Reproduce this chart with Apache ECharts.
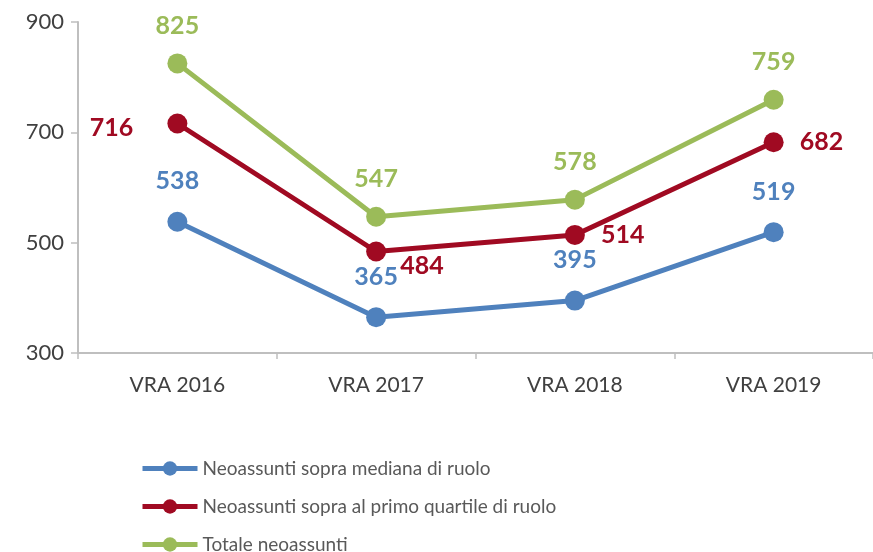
<!DOCTYPE html>
<html>
<head>
<meta charset="utf-8">
<script src="https://cdn.jsdelivr.net/npm/echarts@6/dist/echarts.min.js"></script>
<style>
  html, body { margin: 0; padding: 0; background: #fff; }
  #chart { width: 873px; height: 552px; }
</style>
</head>
<body>
<div id="chart"></div>
<script>
// dati
var categories = ['VRA 2016', 'VRA 2017', 'VRA 2018', 'VRA 2019'];
var sopraMediana = [538, 365, 395, 519];
var sopraQuartile = [716, 484, 514, 682];
var totale = [825, 547, 578, 759];
var nomi = ['Neoassunti sopra mediana di ruolo', 'Neoassunti sopra al primo quartile di ruolo', 'Totale neoassunti'];

var font = 'Lato, "Open Sans", sans-serif';
var blu = '#4F81BD', rosso = '#A00A22', verde = '#9BBB59';

var chart = echarts.init(document.getElementById('chart'));

function serie(nome, dati, colore, label) {
  return {
    name: nome,
    type: 'line',
    data: dati,
    symbol: 'circle',
    symbolSize: 20,
    itemStyle: { color: colore },
    lineStyle: { color: colore, width: 5 },
    label: Object.assign({
      show: true,
      color: colore,
      fontFamily: font,
      fontWeight: 'bold',
      fontSize: 25
    }, label),
    animation: false
  };
}

// etichette rosse: la prima a sinistra, le altre a destra
var rossoDati = sopraQuartile.map(function (v, i) {
  if (i === 0) return { value: v, label: { position: 'left', distance: 34, offset: [0, 4] } };
  if (i === 1) return { value: v, label: { position: 'right', distance: 14, offset: [0, 14] } };
  return { value: v, label: { position: 'right', distance: 16 } };
});

// una legenda per riga
function legenda(nome, top) {
  return {
    orient: 'horizontal',
    left: 135,
    top: top,
    itemWidth: 55,
    itemHeight: 18,
    data: [nome],
    lineStyle: { width: 5 },
    textStyle: { color: '#595959', fontFamily: font, fontSize: 19 }
  };
}

var option = {
  backgroundColor: '#fff',
  grid: { left: 78, right: -5, top: 22, height: 331 },
  xAxis: {
    type: 'category',
    data: categories,
    boundaryGap: true,
    axisLine: { lineStyle: { color: '#BFBFBF', width: 2 } },
    axisTick: { show: true, length: 6, lineStyle: { color: '#BFBFBF', width: 1.5 } },
    axisLabel: { color: '#404040', fontFamily: font, fontSize: 21, margin: 22 }
  },
  yAxis: {
    type: 'value',
    min: 300,
    max: 900,
    interval: 200,
    axisLine: { show: true, lineStyle: { color: '#BFBFBF', width: 2 } },
    axisTick: { show: true, length: 7, lineStyle: { color: '#BFBFBF', width: 1.5 } },
    splitLine: { show: false },
    axisLabel: { color: '#404040', fontFamily: font, fontSize: 22, margin: 14 }
  },
  legend: [
    legenda(nomi[0], 454),
    legenda(nomi[1], 492),
    legenda(nomi[2], 530)
  ],
  series: [
    serie(nomi[0], sopraMediana, blu, { position: 'top', distance: 18 }),
    serie(nomi[1], rossoDati, rosso, {}),
    serie(nomi[2], totale, verde, { position: 'top', distance: 15 })
  ]
};

chart.setOption(option);
</script>
</body>
</html>
